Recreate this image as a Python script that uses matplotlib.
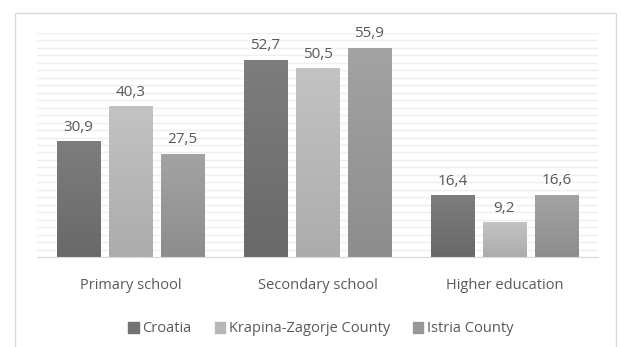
import numpy as np
import matplotlib.pyplot as plt
from matplotlib.colors import LinearSegmentedColormap
from matplotlib.patches import Rectangle

plt.rcParams['font.family'] = ['Open Sans', 'DejaVu Sans']

categories = ["Primary school", "Secondary school", "Higher education"]
series = ["Croatia", "Krapina-Zagorje County", "Istria County"]
croatia = [30.9, 52.7, 16.4]
krapina = [40.3, 50.5, 9.2]
istria = [27.5, 55.9, 16.6]

# top / bottom shade of each series' gradient fill
shades = [("#7d7d7d", "#696969"), ("#c3c3c3", "#acacac"), ("#a3a3a3", "#8d8d8d")]
text_col = "#595959"

fig = plt.figure(figsize=(6.22, 3.47), dpi=100)
ax = fig.add_axes([37 / 622, 90 / 347, 561 / 622, 224 / 347])

# outer chart frame
fig.patches.append(Rectangle((15 / 622, -0.05), 601 / 622, 1.05 - 13 / 347,
                             transform=fig.transFigure, fill=False,
                             edgecolor="#d9d9d9", linewidth=1.0))

x = np.arange(len(categories))
width = 0.23
step = 0.278
grad = np.linspace(1, 0, 100).reshape(-1, 1)

for i, (name, vals) in enumerate(zip(series, [croatia, krapina, istria])):
    xs = x + (i - 1) * step
    bars = ax.bar(xs, vals, width, color=shades[i][1], label=name, zorder=2)
    cmap = LinearSegmentedColormap.from_list(name, [shades[i][1], shades[i][0]])
    for b, v in zip(bars, vals):
        b.set_facecolor("none")
        b.set_edgecolor("none")
        ax.imshow(grad, extent=(b.get_x(), b.get_x() + width, 0, v), cmap=cmap,
                  aspect="auto", origin="upper", zorder=2)
        ax.annotate(f"{v:.1f}".replace(".", ","), (b.get_x() + width / 2, v),
                    xytext=(0, 5), textcoords="offset points", ha="center",
                    va="bottom", fontsize=11, color=text_col)

ax.set_xlim(-0.5, 2.5)
ax.set_ylim(0, 60)
ax.set_yticks(np.arange(0, 61, 2))
ax.yaxis.grid(True, color="#efefef", linewidth=1.0, zorder=0)
ax.set_axisbelow(True)
ax.set_yticklabels([])
ax.tick_params(axis="y", length=0)
ax.set_xticks(x)
ax.set_xticklabels(categories, fontsize=10.5, color=text_col)
ax.tick_params(axis="x", length=0, pad=15)
for s in ["top", "right", "left"]:
    ax.spines[s].set_visible(False)
ax.spines["bottom"].set_color("#d9d9d9")

# legend squares use the mid shade of each gradient
handles = [Rectangle((0, 0), 1, 1, color=c) for c in ["#737373", "#b8b8b8", "#989898"]]
fig.legend(handles, series, loc="center", bbox_to_anchor=(321 / 622, 1 - 329 / 347),
           ncol=3, frameon=False, fontsize=10.5, labelcolor=text_col,
           handlelength=0.7, handleheight=0.7, handletextpad=0.25, columnspacing=1.6)

fig.savefig("out.png", dpi=100)
